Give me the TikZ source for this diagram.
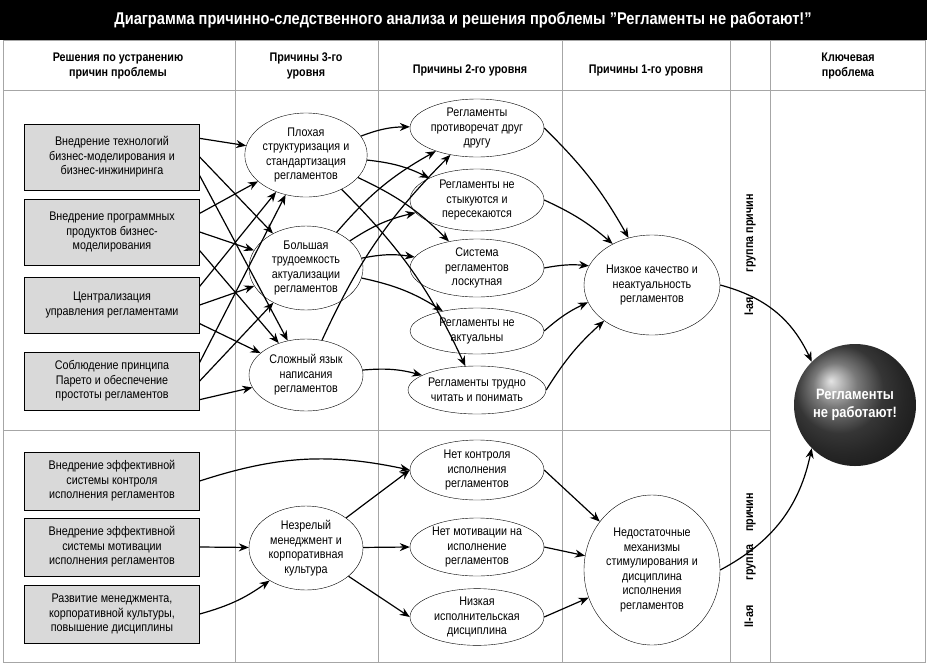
\documentclass[tikz,border=0pt]{standalone}
\usepackage{fontspec}
\setmainfont{Liberation Sans}[FakeStretch=0.86]
\usetikzlibrary{arrows.meta,shapes.geometric}
\tikzset{
    solbox/.style={draw, fill=gray!30, minimum width=175pt, align=center, font=\fontsize{12.5}{14.5}\selectfont}, % решения
    cause/.style={draw, ellipse, fill=white, inner sep=0pt, align=center, font=\fontsize{12.5}{14.5}\selectfont},
    head/.style={align=center, font=\bfseries\fontsize{12.5}{14.5}\selectfont},
    arr/.style={-{Stealth[length=10pt,width=8pt]}, line width=1.2pt}
}
\begin{document}
\begin{tikzpicture}[x=1pt, y=-1pt]
  \useasboundingbox (0,0) rectangle (927,665);
  \fill[black] (0,0) rectangle (927,40);
  \node[head, text=white, font=\bfseries\fontsize{17}{19}\selectfont] (title) at (463,20)
      {Диаграмма причинно-следственного анализа и решения проблемы "Регламенты не работают!"};

  % сетка
  \draw[gray!70, line width=0.8pt] (3,40) rectangle (925,662);
  \foreach \x in {235, 378, 562, 730, 770} {
      \draw[gray!70, line width=0.8pt] (\x,40) -- (\x,662);
  }
  \draw[gray!70, line width=0.8pt] (3,90) -- (925,90);
  \draw[gray!70, line width=0.8pt] (3,430) -- (770,430);

  \node[head] (h1) at (118,66) {Решения по устранению\\причин проблемы};
  \node[head] (h2) at (306,66) {Причины 3-го\\уровня};
  \node[head] (h3) at (470,70) {Причины 2-го уровня};
  \node[head] (h4) at (646,70) {Причины 1-го уровня};
  \node[head] (h5) at (848,66) {Ключевая\\проблема};
  \node[head, rotate=90] (g1) at (750,255) {I-ая\quad\quad группа причин};
  \node[head, rotate=90] (g2) at (750,560) {II-ая\quad\quad группа\quad причин};

  % решения
  \node[solbox, minimum height=66pt] (L1) at (112,157) {Внедрение технологий\\бизнес-моделирования и\\бизнес-инжиниринга};
  \node[solbox, minimum height=66pt] (L2) at (112,232) {Внедрение программных\\продуктов бизнес-\\моделирования};
  \node[solbox, minimum height=56pt] (L3) at (112,305) {Централизация\\управления регламентами};
  \node[solbox, minimum height=58pt] (L4) at (112,381) {Соблюдение принципа\\Парето и обеспечение\\простоты регламентов};
  \node[solbox, minimum height=58pt] (L5) at (112,481) {Внедрение эффективной\\системы контроля\\исполнения регламентов};
  \node[solbox, minimum height=58pt] (L6) at (112,547) {Внедрение эффективной\\системы мотивации\\исполнения регламентов};
  \node[solbox, minimum height=58pt] (L7) at (112,614) {Развитие менеджмента,\\корпоративной культуры,\\повышение дисциплины};

  % причины 3-го уровня
  \node[cause, minimum width=114pt, minimum height=84pt] (C1) at (306,155) {Плохая\\структуризация и\\стандартизация\\регламентов};
  \node[cause, minimum width=114pt, minimum height=84pt] (C2) at (306,268) {Большая\\трудоемкость\\актуализации\\регламентов};
  \node[cause, minimum width=114pt, minimum height=72pt] (C3) at (306,375) {Сложный язык\\написания\\регламентов};
  \node[cause, minimum width=114pt, minimum height=84pt] (C4) at (306,548) {Незрелый\\менеджмент и\\корпоративная\\культура};

  % причины 2-го уровня
  \node[cause, minimum width=134pt, minimum height=58pt] (R1) at (477,128) {Регламенты\\противоречат друг\\другу};
  \node[cause, minimum width=134pt, minimum height=62pt] (R2) at (477,200) {Регламенты не\\стыкуются и\\пересекаются};
  \node[cause, minimum width=134pt, minimum height=58pt] (R3) at (477,268) {Система\\регламентов\\лоскутная};
  \node[cause, minimum width=134pt, minimum height=46pt] (R4) at (477,331) {Регламенты не\\актуальны};
  \node[cause, minimum width=134pt, minimum height=48pt] (R5) at (477,390) {Регламенты трудно\\читать и понимать};
  \node[cause, minimum width=134pt, minimum height=60pt] (R6) at (477,470) {Нет контроля\\исполнения\\регламентов};
  \node[cause, minimum width=134pt, minimum height=58pt] (R7) at (477,547) {Нет мотивации на\\исполнение\\регламентов};
  \node[cause, minimum width=134pt, minimum height=52pt] (R8) at (477,617) {Низкая\\исполнительская\\дисциплина};

  % причины 1-го уровня
  \node[cause, minimum width=136pt, minimum height=100pt] (F1) at (652,285) {Низкое качество и\\неактуальность\\регламентов};
  \node[cause, minimum width=136pt, minimum height=150pt] (F2) at (652,570) {Недостаточные\\механизмы\\стимулирования и\\дисциплина\\исполнения\\регламентов};

  % ключевая проблема
  \shade[ball color=gray!60!black] (855,405) circle (61);
  \node[circle, minimum size=122pt, text=white, align=center, font=\bfseries\fontsize{15}{18}\selectfont] (K) at (855,405) {Регламенты\\не работают!};

  % связи
  \foreach \a in {L1, L2, L3, L4} {
      \foreach \b / \ang in {C1/12, C2/0, C3/-12} {
          \draw[arr] (\a.\ang) -- (\b);
      }
  }
  \foreach \a / \b in {C1/R1, C1/R2, C1/R3, C1/R5, C2/R1, C2/R2, C2/R3, C2/R4, C3/R1, C3/R5} {
      \draw[arr] (\a) to[bend left=10] (\b);
  }
  \foreach \a in {R1, R2, R3, R4, R5} {
      \draw[arr] (\a.east) to[bend left=8] (F1);
  }
  \draw[arr] (L5.east) to[bend left=15] (R6.west);
  \draw[arr] (L6.east) -- (C4);
  \draw[arr] (L7.east) to[bend right=10] (C4);
  \foreach \b in {R6, R7, R8} {
      \draw[arr] (C4) -- (\b.west);
  }
  \foreach \a in {R6, R7, R8} {
      \draw[arr] (\a.east) -- (F2);
  }
  \draw[arr] (F1.east) to[bend left=25] (K.north west);
  \draw[arr] (F2.east) to[bend right=25] (K.south west);
\end{tikzpicture}
\end{document}
